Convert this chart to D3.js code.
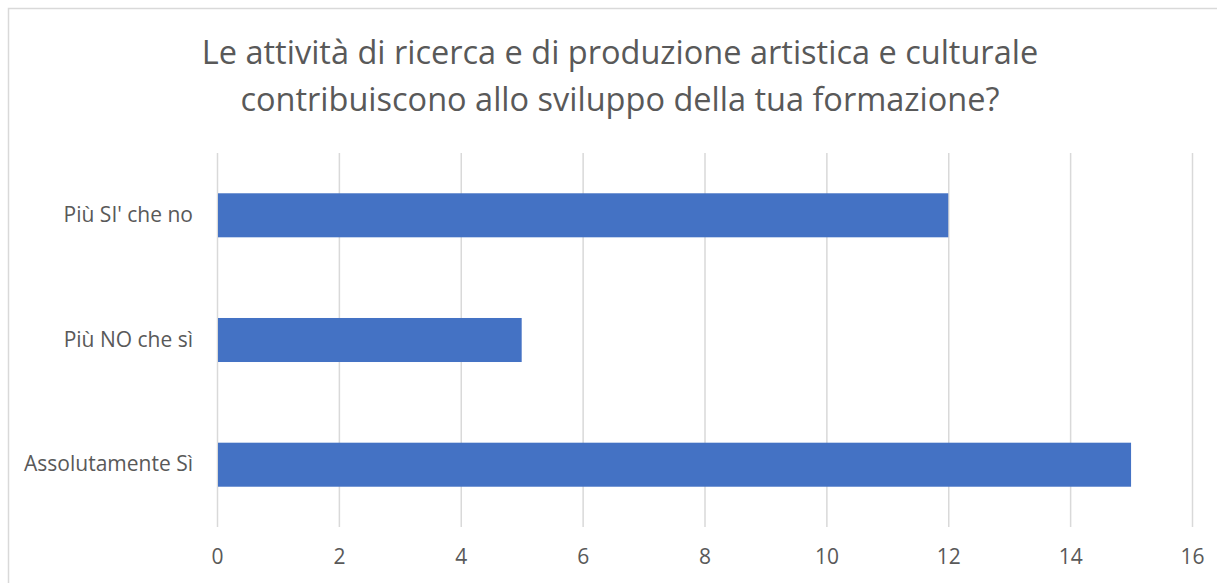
<!DOCTYPE html>
<html><head><meta charset="utf-8">
<script src="https://cdn.jsdelivr.net/npm/d3@7"></script>
<style>html,body{margin:0;padding:0;background:#fff;overflow:hidden}</style>
</head><body>
<svg id="c" width="1217" height="583"></svg>
<script>
const titleLines = ["Le attività di ricerca e di produzione artistica e culturale", "contribuiscono allo sviluppo della tua formazione?"];
const categories = ["Più SI' che no", "Più NO che sì", "Assolutamente Sì"];
const values = [12, 5, 15];
const xTicks = [0, 2, 4, 6, 8, 10, 12, 14, 16];

const svg = d3.select("#c");
const font = "'Open Sans', 'Liberation Sans', sans-serif";
svg.append("rect").attr("x", 8.5).attr("y", 8.5).attr("width", 1225).attr("height", 600)
  .attr("fill", "#fff").attr("stroke", "#d9d9d9").attr("stroke-width", 1.5);

svg.selectAll("text.title").data(titleLines).join("text").attr("class", "title")
  .attr("x", 620).attr("y", (d, i) => 64 + i * 47).attr("text-anchor", "middle")
  .attr("font-family", font).attr("font-size", 32.5).attr("fill", "#595959").text(d => d);

const x = d3.scaleLinear().domain([0, 16]).range([217, 1192]);
const y = d3.scaleBand().domain(categories).range([153, 527]).paddingInner(0.647).paddingOuter(0.323);

svg.append("g").selectAll("line").data(xTicks).join("line")
  .attr("x1", d => x(d) + 0.5).attr("x2", d => x(d) + 0.5).attr("y1", 153).attr("y2", 527)
  .attr("stroke", "#d9d9d9").attr("stroke-width", 1.5);

svg.append("g").selectAll("rect").data(values).join("rect")
  .attr("x", x(0) + 1).attr("y", (d, i) => y(categories[i]))
  .attr("width", d => x(d) - x(0) - 1).attr("height", y.bandwidth()).attr("fill", "#4472c4");

const xAxis = svg.append("g").attr("transform", "translate(0,527)")
  .call(d3.axisBottom(x).tickValues(xTicks).tickSize(0).tickPadding(22));
xAxis.select(".domain").remove();
xAxis.selectAll("text").attr("font-family", font).attr("font-size", 21).attr("fill", "#595959");

const yAxis = svg.append("g").attr("transform", "translate(193,0)")
  .call(d3.axisLeft(y).tickSize(0).tickPadding(0));
yAxis.select(".domain").remove();
yAxis.selectAll("text").attr("font-family", font).attr("font-size", 21).attr("fill", "#595959");
</script>
</body></html>
